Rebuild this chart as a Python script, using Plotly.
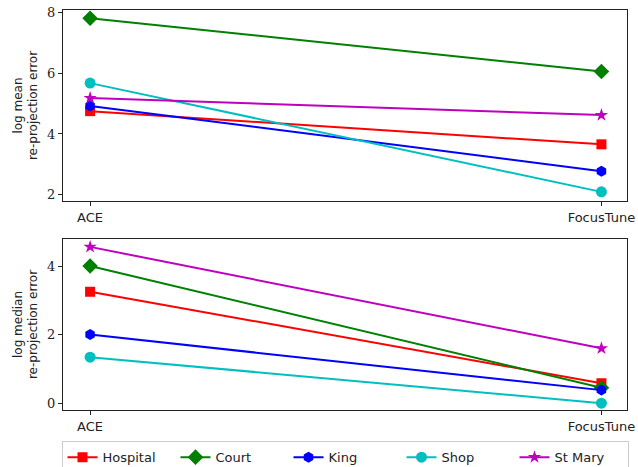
import plotly.graph_objects as go

methods = ["ACE", "FocusTune"]
scenes = ["Hospital", "Court", "King", "Shop", "St Mary"]
log_mean = {
    "Hospital": [4.75, 3.66],
    "Court": [7.80, 6.05],
    "King": [4.92, 2.78],
    "Shop": [5.67, 2.10],
    "St Mary": [5.18, 4.62],
}
log_median = {
    "Hospital": [3.25, 0.58],
    "Court": [4.00, 0.45],
    "King": [2.00, 0.38],
    "Shop": [1.34, 0.00],
    "St Mary": [4.56, 1.60],
}
colors = {"Hospital": "#ff0000", "Court": "#008000", "King": "#0000ff", "Shop": "#00bfbf", "St Mary": "#bf00bf"}
symbols = {"Hospital": "square", "Court": "diamond", "King": "hexagon", "Shop": "circle", "St Mary": "star"}
sizes = {"Hospital": 10, "Court": 12, "King": 11, "Shop": 11, "St Mary": 10}

fig = go.Figure()
xpos = [0, 1]
for s in scenes:
    fig.add_trace(go.Scatter(x=xpos, y=log_mean[s], mode="lines+markers", name=s,
                             line=dict(color=colors[s], width=2),
                             marker=dict(symbol=symbols[s], size=sizes[s], color=colors[s]),
                             xaxis="x", yaxis="y", showlegend=True))
for s in scenes:
    fig.add_trace(go.Scatter(x=xpos, y=log_median[s], mode="lines+markers", name=s,
                             line=dict(color=colors[s], width=2),
                             marker=dict(symbol=symbols[s], size=sizes[s], color=colors[s]),
                             xaxis="x2", yaxis="y2", showlegend=False))

axis_common = dict(showline=True, linecolor="#222222", linewidth=1, mirror=True,
                   ticks="outside", ticklen=4, tickcolor="#222222", showgrid=False,
                   zeroline=False, automargin=False)
xcommon = dict(axis_common, range=[-0.053, 1.05], tickvals=xpos, ticktext=methods,
               tickfont=dict(family="DejaVu Sans", size=13, color="#222222"))
ytick = dict(family="DejaVu Serif", size=13, color="#222222")

fig.update_layout(
    width=638, height=467,
    margin=dict(l=63, r=11, t=10, b=57, autoexpand=False),
    paper_bgcolor="white", plot_bgcolor="white",
    xaxis=dict(xcommon, domain=[0, 1], anchor="y"),
    yaxis=dict(axis_common, domain=[0.5225, 1], range=[1.8, 8.07], tickvals=[2, 4, 6, 8],
               tickfont=ytick, anchor="x",
               title=dict(text="log mean<br>re-projection error", standoff=6,
                          font=dict(family="DejaVu Sans", size=12, color="#222222"))),
    xaxis2=dict(xcommon, domain=[0, 1], anchor="y2"),
    yaxis2=dict(axis_common, domain=[0, 0.4275], range=[-0.2, 4.79], tickvals=[0, 2, 4],
                tickfont=ytick, anchor="x2",
                title=dict(text="log median<br>re-projection error", standoff=6,
                           font=dict(family="DejaVu Sans", size=12, color="#222222"))),
    legend=dict(orientation="h", x=0.5, xanchor="center", y=-0.078, yanchor="top",
                bordercolor="#cccccc", borderwidth=1, bgcolor="white",
                font=dict(family="DejaVu Sans", size=13, color="#222222"),
                entrywidth=68, entrywidthmode="pixels", itemwidth=30),
    showlegend=True,
)

fig.write_html("out.html", config={"displayModeBar": False},
               post_script="document.body.style.margin='0';")
